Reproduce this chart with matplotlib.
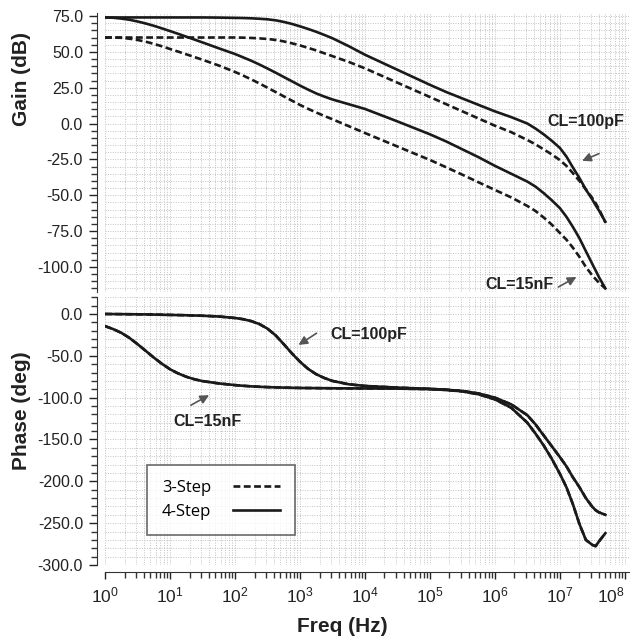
import matplotlib
matplotlib.use("Agg")
import matplotlib.pyplot as plt
from matplotlib.lines import Line2D
from matplotlib.ticker import (FormatStrFormatter, MultipleLocator, LogLocator,
                               NullFormatter)

plt.rcParams['font.family'] = ['Liberation Sans', 'DejaVu Sans']
plt.rcParams['axes.unicode_minus'] = False
plt.rcParams['mathtext.fontset'] = 'custom'
plt.rcParams['mathtext.rm'] = 'Liberation Sans'
plt.rcParams['mathtext.it'] = 'Liberation Sans:italic'
plt.rcParams['mathtext.bf'] = 'Liberation Sans:bold'

# Frequency points (Hz)
freq = [1, 1.33, 1.78, 2.37, 3.16, 4.22, 5.62, 7.50, 10, 13.3, 17.8, 23.7,
        31.6, 56.2, 100, 133, 178, 237, 316, 422, 562, 750, 1e3, 1.33e3,
        1.78e3, 2.37e3, 3.16e3, 5.62e3, 1e4, 3.16e4, 1e5, 1.78e5, 3.16e5,
        5.62e5, 1e6, 1.78e6, 3.16e6, 4.22e6, 5.62e6, 7.50e6, 1e7, 1.26e7,
        1.58e7, 2.0e7, 2.51e7, 3.16e7, 3.55e7, 3.98e7, 5.01e7]

# Gain (dB)
gain_4step_100p = [74.0, 74.0, 74.0, 74.0, 74.0, 74.0, 74.0, 74.0, 74.0, 74.0,
                   74.0, 74.0, 74.0, 73.9, 73.7, 73.6, 73.4, 73.1, 72.7, 72.0,
                   70.9, 69.5, 67.8, 66.0, 64.0, 61.8, 59.5, 54.0, 48.0, 37.5,
                   27.0, 22.0, 17.5, 13.0, 8.5, 4.5, 0.0, -3.5, -7.5, -12.0,
                   -17.0, -23.0, -30.5, -38.0, -46.0, -53.0, -57.0, -60.5,
                   -68.5]
gain_3step_100p = [60.0, 60.0, 60.0, 60.0, 60.0, 60.0, 60.0, 60.0, 60.0, 60.0,
                   60.0, 60.0, 60.0, 60.0, 60.0, 59.9, 59.7, 59.4, 59.0, 58.3,
                   57.3, 56.0, 54.5, 52.8, 51.0, 49.0, 47.0, 43.0, 38.5, 28.5,
                   18.5, 13.5, 8.5, 3.5, -1.5, -6.0, -11.5, -14.5, -18.0,
                   -21.5, -25.5, -29.5, -34.5, -40.0, -46.0, -52.0, -55.5,
                   -59.5, -69.0]
gain_4step_15n = [74.0, 73.8, 73.2, 72.4, 71.2, 69.8, 68.2, 66.4, 64.5, 62.6,
                  60.6, 58.6, 56.6, 52.5, 48.5, 46.2, 43.8, 41.2, 38.4, 35.5,
                  32.5, 29.5, 26.5, 23.7, 21.0, 18.8, 16.8, 13.5, 10.2, 1.5,
                  -7.5, -12.5, -18.0, -23.5, -29.5, -35.0, -40.5, -44.0, -48.5,
                  -53.5, -59.0, -65.0, -72.0, -80.0, -89.0, -98.0, -102.5,
                  -107.0, -115.0]
gain_3step_15n = [60.0, 60.0, 59.8, 59.2, 58.3, 57.1, 55.6, 53.9, 52.0, 50.2,
                  48.3, 46.4, 44.5, 40.5, 36.0, 33.5, 30.8, 28.0, 25.0, 22.0,
                  19.0, 16.0, 13.0, 10.3, 7.7, 5.3, 3.0, -1.8, -6.6, -16.0,
                  -25.4, -30.5, -35.7, -41.0, -46.3, -51.5, -57.5, -61.0, -65.5,
                  -70.5, -76.3, -81.0, -86.5, -93.0, -100.0, -106.0, -108.5,
                  -111.0, -115.0]

# Phase (deg); the 3-step and 4-step traces coincide
phase_100p = [0.0, -0.1, -0.2, -0.3, -0.4, -0.5, -0.7, -0.9, -1.1, -1.3, -1.5,
              -1.8, -2.1, -3.0, -4.8, -6.2, -8.5, -12.0, -17.5, -25.5, -36.0,
              -47.0, -57.0, -65.5, -72.0, -76.5, -80.0, -84.0, -86.0, -88.0,
              -89.5, -90.5, -92.0, -95.0, -100.0, -108.0, -121.0, -132.0,
              -145.0, -158.0, -171.0, -182.0, -195.0, -207.0, -220.0, -230.5,
              -234.5, -237.0, -240.0]
phase_15n = [-14.5, -18.0, -22.5, -28.5, -36.0, -44.0, -52.0, -59.5, -66.0,
             -71.0, -75.0, -78.0, -80.2, -83.0, -85.0, -85.8, -86.5, -87.0,
             -87.4, -87.7, -88.0, -88.2, -88.4, -88.5, -88.6, -88.7, -88.8,
             -88.9, -89.0, -89.2, -89.8, -90.8, -92.5, -96.0, -102.0, -112.0,
             -130.0, -143.0, -157.0, -173.0, -191.0, -207.0, -227.0, -251.0,
             -270.0, -276.0, -277.5, -272.0, -262.0]

gain_ticks = [75, 50, 25, 0, -25, -50, -75, -100]
phase_ticks = [0, -50, -100, -150, -200, -250, -300]
freq_ticks = [1e0, 1e1, 1e2, 1e3, 1e4, 1e5, 1e6, 1e7, 1e8]
freq_tick_labels = [r'$10^{%d}$' % k for k in range(9)]
legend_labels = ['3-Step', '4-Step']

INK = '#1a1a1a'
LW = 1.9
DASH = (2.6, 1.3)

fig = plt.figure(figsize=(6.30, 6.37), dpi=100)
ax1 = fig.add_axes([105 / 630, 1 - 292 / 637, 525 / 630, 279 / 637])
ax2 = fig.add_axes([105 / 630, 1 - 565 / 637, 525 / 630, 268 / 637])

for ax in (ax1, ax2):
    ax.set_xscale('log')
    ax.set_xlim(1, 1.2e8)
    for s in ('top', 'right'):
        ax.spines[s].set_visible(False)
    ax.spines['left'].set_position(('outward', 5.8))
    ax.spines['left'].set_color('#333333')
    ax.xaxis.set_minor_locator(LogLocator(base=10, subs=range(2, 10), numticks=20))
    ax.xaxis.set_minor_formatter(NullFormatter())
    ax.grid(True, which='both', linestyle=(0, (1, 1.5)), color='#c2c2c2', linewidth=0.7)
    ax.set_axisbelow(True)
    ax.tick_params(axis='y', which='major', length=6, width=1, direction='out',
                   pad=4, labelsize=11.5, colors='#222222')
    ax.tick_params(axis='y', which='minor', length=4, width=1, direction='out',
                   colors='#333333')
    ax.yaxis.set_major_formatter(FormatStrFormatter('%.1f'))

# Gain panel
ax1.plot(freq, gain_4step_100p, color=INK, lw=LW)
ax1.plot(freq, gain_3step_100p, color=INK, lw=LW, linestyle='--', dashes=DASH)
ax1.plot(freq, gain_4step_15n, color=INK, lw=LW)
ax1.plot(freq, gain_3step_15n, color=INK, lw=LW, linestyle='--', dashes=DASH)
ax1.set_ylim(-117.5, 77.1)
ax1.set_yticks(gain_ticks)
ax1.yaxis.set_minor_locator(MultipleLocator(5))
ax1.set_xticks(freq_ticks)
ax1.spines['bottom'].set_visible(False)
ax1.tick_params(axis='x', which='both', bottom=False, labelbottom=False)

# Phase panel
ax2.plot(freq, phase_100p, color=INK, lw=LW)
ax2.plot(freq, phase_100p, color=INK, lw=LW, linestyle='--', dashes=DASH)
ax2.plot(freq, phase_15n, color=INK, lw=LW)
ax2.plot(freq, phase_15n, color=INK, lw=LW, linestyle='--', dashes=DASH)
ax2.set_ylim(-300, 20.3)
ax2.set_yticks(phase_ticks)
ax2.yaxis.set_minor_locator(MultipleLocator(10))
ax2.spines['bottom'].set_position(('outward', 5))
ax2.spines['bottom'].set_color('#333333')
ax2.set_xticks(freq_ticks, freq_tick_labels)
ax2.get_xticklabels()[-1].set_horizontalalignment('right')
ax2.tick_params(axis='x', which='major', length=5, width=1, direction='out',
                pad=5, labelsize=12.5, colors='#222222')
ax2.tick_params(axis='x', which='minor', length=4, width=1, direction='out',
                colors='#333333')

# Load-capacitance callouts
bold = dict(fontsize=11.5, fontweight='bold', color='#222222', ha='center', va='center')
arrow = dict(arrowstyle='-|>', color='#555555', lw=1.2, mutation_scale=13,
             shrinkA=0, shrinkB=0)

ax1.text(2.5e7, 1.5, 'CL=100pF', **bold)
ax1.annotate('', xy=(2.2e7, -26), xytext=(4.0e7, -21), arrowprops=arrow)
ax1.text(2.4e6, -112.5, 'CL=15nF', **bold)
ax1.annotate('', xy=(1.8e7, -107), xytext=(9.5e6, -114), arrowprops=arrow)

ax2.text(1.15e4, -24, 'CL=100pF', **bold)
ax2.annotate('', xy=(9.5e2, -37), xytext=(1.8e3, -23), arrowprops=arrow)
ax2.text(38, -129, 'CL=15nF', **bold)
ax2.annotate('', xy=(40, -97), xytext=(21, -109), arrowprops=arrow)

# Legend: label text on the left, line sample on the right
handles = [Line2D([], [], color=INK, lw=LW, linestyle='--', dashes=DASH),
           Line2D([], [], color=INK, lw=LW)]
leg = ax2.legend(handles, legend_labels, loc='upper left',
                 bbox_to_anchor=(147 / 630, 1 - 465 / 637),
                 bbox_transform=fig.transFigure, borderaxespad=0,
                 markerfirst=False, frameon=True, fancybox=False,
                 prop={'family': ['Open Sans', 'DejaVu Sans'], 'size': 12},
                 handlelength=2.8, handletextpad=1.3, labelspacing=0.45,
                 borderpad=0.9)
leg.get_frame().set_edgecolor('#444444')
leg.get_frame().set_linewidth(1.2)

# Axis titles
title = dict(fontsize=15, fontweight='bold', color='#222222', ha='center', va='center')
fig.text(22 / 630, 1 - 79 / 637, 'Gain (dB)', rotation=90, **title)
fig.text(22 / 630, 1 - 411 / 637, 'Phase (deg)', rotation=90, **title)
fig.text(342 / 630, 1 - 627 / 637, 'Freq (Hz)', **title)

fig.savefig('out.png', dpi=100)
